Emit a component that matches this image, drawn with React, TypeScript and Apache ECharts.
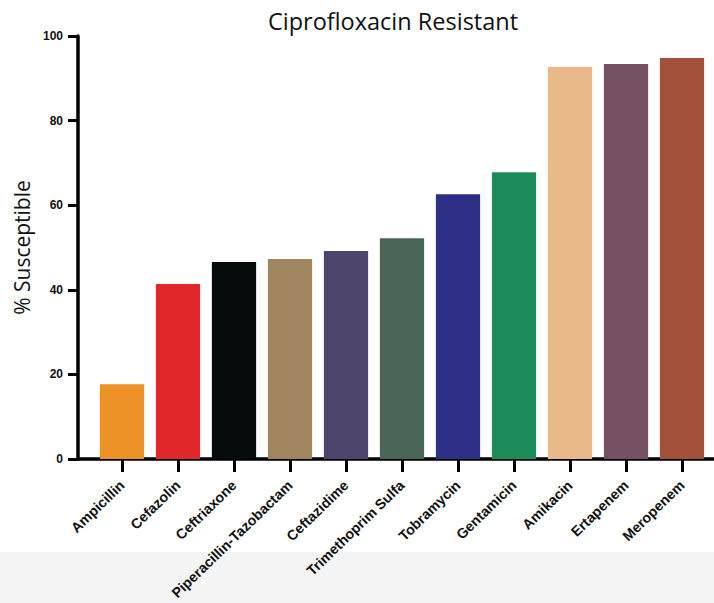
import React, { useEffect, useRef } from "react";
import * as echarts from "echarts";

const categories = [
  "Ampicillin",
  "Cefazolin",
  "Ceftriaxone",
  "Piperacillin-Tazobactam",
  "Ceftazidime",
  "Trimethoprim Sulfa",
  "Tobramycin",
  "Gentamicin",
  "Amikacin",
  "Ertapenem",
  "Meropenem",
];
const susceptible = [17.7, 41.4, 46.6, 47.3, 49.2, 52.2, 62.6, 67.8, 92.7, 93.4, 94.8];
const barColors = [
  "#ED9226",
  "#E0282A",
  "#050A0A",
  "#A08660",
  "#4D456B",
  "#4A6656",
  "#2E2F87",
  "#1E8C5A",
  "#E9B98A",
  "#754F62",
  "#A3513A",
];
const yTicks = [0, 20, 40, 60, 80, 100];

export default function App() {
  const ref = useRef<HTMLDivElement>(null);
  useEffect(() => {
    if (!ref.current) return;
    const chart = echarts.init(ref.current, undefined, { renderer: "svg" });
    chart.setOption({
      animation: false,
      backgroundColor: "#ffffff",
      title: {
        text: "Ciprofloxacin Resistant",
        left: 388,
        textAlign: "center",
        top: 4,
        textStyle: {
          fontFamily: "Open Sans",
          fontWeight: "normal",
          fontSize: 23.5,
          color: "#111",
        },
      },
      graphic: [
        {
          type: "rect",
          z: -10,
          shape: { x: 0, y: 552, width: 714, height: 51 },
          style: { fill: "#f4f4f4" },
        },
      ],
      grid: [
        { left: 94, width: 616, top: 36, height: 423, containLabel: false, outerBoundsMode: "none" },
        { left: 78, right: 0, top: 36, height: 423, containLabel: false, outerBoundsMode: "none" },
      ],
      xAxis: [
        {
          type: "category",
          gridIndex: 0,
          data: categories,
          axisLine: { show: false },
          axisTick: {
            show: true,
            alignWithLabel: true,
            length: 13,
            lineStyle: { color: "#000", width: 3 },
          },
          axisLabel: {
            rotate: 44,
            interval: 0,
            margin: 24,
            fontFamily: "Liberation Sans",
            fontWeight: "bold",
            fontSize: 14.2,
            color: "#111",
          },
        },
        {
          type: "value",
          gridIndex: 1,
          min: 0,
          max: 1,
          axisLine: { show: true, lineStyle: { color: "#000", width: 3.5 } },
          axisTick: { show: false },
          axisLabel: { show: false },
          splitLine: { show: false },
        },
      ],
      yAxis: [
        {
          type: "value",
          gridIndex: 0,
          min: 0,
          max: 100,
          show: false,
        },
        {
          type: "value",
          gridIndex: 1,
          min: yTicks[0],
          max: yTicks[yTicks.length - 1],
          interval: 20,
          name: "% Susceptible",
          nameLocation: "middle",
          nameGap: 46,
          nameTextStyle: {
            fontFamily: "Open Sans",
            fontSize: 21,
            color: "#111",
          },
          axisLine: { show: true, lineStyle: { color: "#000", width: 3.5 } },
          axisTick: { show: true, length: 10, lineStyle: { color: "#000", width: 3 } },
          axisLabel: {
            margin: 15,
            fontFamily: "Liberation Sans",
            fontWeight: "bold",
            fontSize: 12,
            color: "#111",
          },
          splitLine: { show: false },
        },
      ],
      series: [
        {
          type: "bar",
          xAxisIndex: 0,
          yAxisIndex: 0,
          barCategoryGap: "21%",
          data: susceptible.map((v, i) => ({
            value: v,
            itemStyle: { color: barColors[i] },
          })),
        },
      ],
    });
    return () => chart.dispose();
  }, []);
  return (
    <div
      ref={ref}
      style={{ position: "fixed", left: 0, top: 0, width: 714, height: 603 }}
    />
  );
}
